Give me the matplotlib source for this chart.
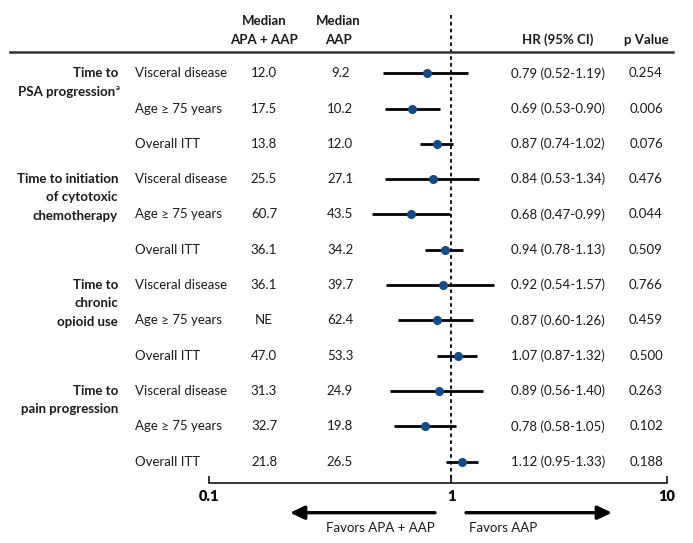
import numpy as np
import matplotlib
matplotlib.use("Agg")
import matplotlib.pyplot as plt
from matplotlib import transforms
from matplotlib.lines import Line2D

plt.rcParams['font.family'] = ['Lato', 'DejaVu Sans']

# data
subgroups = ["Visceral disease", "Age \u2265 75 years", "Overall ITT"] * 4
median_apa = ["12.0", "17.5", "13.8", "25.5", "60.7", "36.1",
              "36.1", "NE", "47.0", "31.3", "32.7", "21.8"]
median_aap = ["9.2", "10.2", "12.0", "27.1", "43.5", "34.2",
              "39.7", "62.4", "53.3", "24.9", "19.8", "26.5"]
hr = [0.79, 0.69, 0.87, 0.84, 0.68, 0.94, 0.92, 0.87, 1.07, 0.89, 0.78, 1.12]
ci_lo = [0.52, 0.53, 0.74, 0.53, 0.47, 0.78, 0.54, 0.60, 0.87, 0.56, 0.58, 0.95]
ci_hi = [1.19, 0.90, 1.02, 1.34, 0.99, 1.13, 1.57, 1.26, 1.32, 1.40, 1.05, 1.33]
pvals = ["0.254", "0.006", "0.076", "0.476", "0.044", "0.509",
         "0.766", "0.459", "0.500", "0.263", "0.102", "0.188"]
groups = [["Time to", "PSA progression"],
          ["Time to initiation", "of cytotoxic", "chemotherapy"],
          ["Time to", "chronic", "opioid use"],
          ["Time to", "pain progression"]]

W, H = 693, 543
fig = plt.figure(figsize=(W / 100, H / 100), dpi=100)
fig.patch.set_facecolor('white')

# row layout (pixels)
row0, step = 73.3, 35.3
def prow(p):
    return (p - row0) / step

ax = fig.add_axes([209 / W, 0, (667 - 209) / W, 1])
ax.set_facecolor('none')

# the printed axis squeezes the right decade a little
def fwd(x):
    x = np.asarray(x, dtype=float)
    lx = np.log10(np.clip(x, 1e-6, None))
    return np.where(lx > 0, 0.89 * lx, lx)

def inv(y):
    y = np.asarray(y, dtype=float)
    return np.where(y > 0, 10 ** (y / 0.89), 10 ** y)

ax.set_xscale('function', functions=(fwd, inv))
ax.set_xlim(0.1, 10)
ax.set_ylim(prow(H), prow(0))

rows = np.arange(len(hr))
ax.hlines(rows, ci_lo, ci_hi, color='black', lw=2.0, zorder=2)
ax.plot(hr, rows, 'o', color='#0e4c8c', ms=5.5, zorder=3)
ax.vlines(1, prow(15), prow(483), color='black', lw=1.3,
          linestyles=(0, (2.0, 1.8)), zorder=1)

for s in ['top', 'right', 'left']:
    ax.spines[s].set_visible(False)
ax.spines['bottom'].set_position(('data', prow(483)))
ax.spines['bottom'].set_linewidth(1.1)
ax.set_yticks([])
ax.set_xticks([0.1, 1, 10])
ax.set_xticklabels(['0.1', '1', '10'], fontweight='heavy', fontsize=10.5)
ax.tick_params(axis='x', direction='in', length=5, width=1.1, pad=5)
ax.minorticks_off()

# text columns
tr = transforms.blended_transform_factory(fig.transFigure, ax.transData)
def t(x, y, s, **kw):
    kw.setdefault('fontsize', 9.5)
    kw.setdefault('va', 'center')
    kw.setdefault('color', '#1a1a1a')
    fig.text(x / W, y, s, transform=tr, **kw)

for i in rows:
    t(135, i, subgroups[i], ha='left')
    t(264, i, median_apa[i], ha='center')
    t(340, i, median_aap[i], ha='center')
    t(558, i, f"{hr[i]:.2f} ({ci_lo[i]:.2f}-{ci_hi[i]:.2f})", ha='center')
    t(646, i, pvals[i], ha='center')

line_gap = 18.3 / step
for g, lines in enumerate(groups):
    for k, s in enumerate(lines):
        xr = 115 if (g == 0 and k == 1) else 118
        t(xr, 3 * g + k * line_gap, s, ha='right', fontweight='bold')
t(115.5, line_gap - 0.12, "a", ha='left', fontweight='bold', fontsize=5.5)

# headers
t(264, prow(21), "Median", ha='center', fontweight='bold')
t(264, prow(40), "APA + AAP", ha='center', fontweight='bold')
t(338, prow(21), "Median", ha='center', fontweight='bold')
t(338, prow(40), "AAP", ha='center', fontweight='bold')
t(558, prow(40), "HR (95% CI)", ha='center', fontweight='bold')
t(646, prow(40), "p Value", ha='center', fontweight='bold')

fig.add_artist(Line2D([10 / W, 673 / W], [1 - 52.3 / H, 1 - 52.3 / H],
                      transform=fig.transFigure, color='#333333', lw=1.8))

# direction arrows
ay = H - 512.7
arrow = dict(arrowstyle='-|>,head_length=0.85,head_width=0.4', lw=2.4,
             color='black', shrinkA=0, shrinkB=0)
ax.annotate('', xy=(290, ay), xytext=(435, ay), xycoords='figure pixels',
            textcoords='figure pixels', arrowprops=arrow)
ax.annotate('', xy=(612, ay), xytext=(466, ay), xycoords='figure pixels',
            textcoords='figure pixels', arrowprops=arrow)
fig.text(435 / W, 1 - 528 / H, "Favors APA + AAP", ha='right', va='center',
         fontsize=9.5, color='#1a1a1a')
fig.text(469 / W, 1 - 528 / H, "Favors AAP", ha='left', va='center',
         fontsize=9.5, color='#1a1a1a')

fig.savefig('out.png', dpi=100)
